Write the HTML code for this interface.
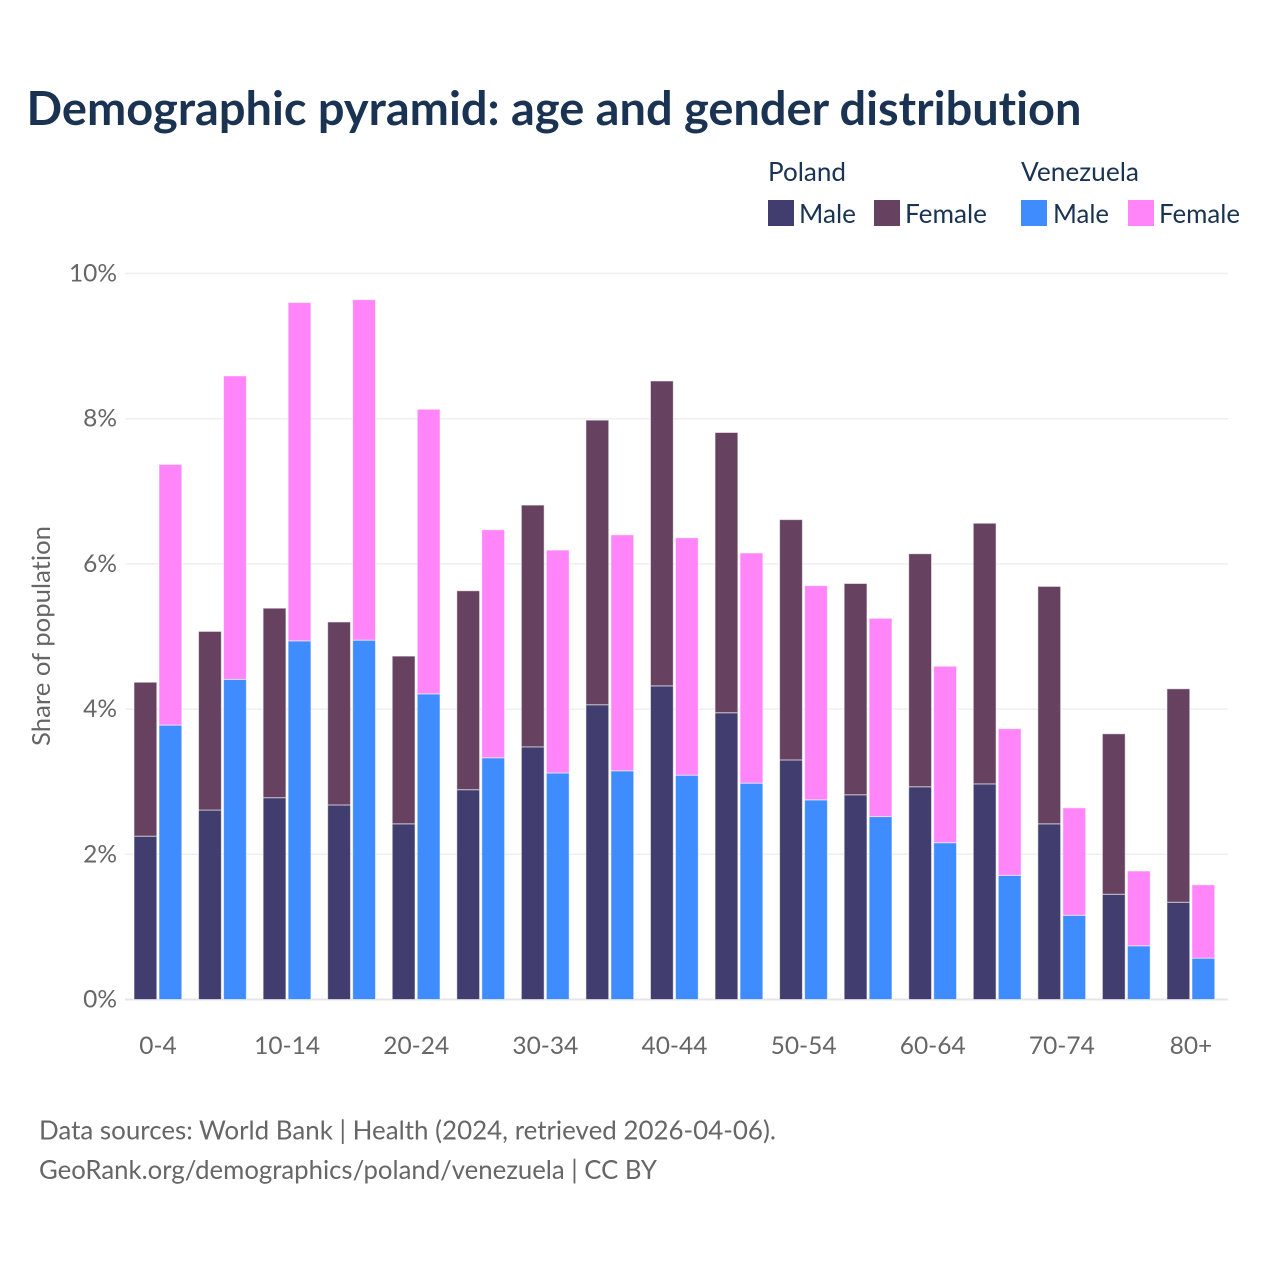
<!DOCTYPE html>
<html>
<head>
<meta charset="utf-8">
<title>Demographic pyramid</title>
<style>
html,body{margin:0;padding:0;background:#fff;}
svg{display:block;font-family:"Lato","Carlito","Liberation Sans",sans-serif;font-variant-ligatures:none;}
</style>
</head>
<body>
<svg id="chart" width="1280" height="1280" viewBox="0 0 1280 1280" xmlns="http://www.w3.org/2000/svg">
  <rect width="1280" height="1280" fill="#ffffff"/>
  <text x="26.5" y="125" font-size="46.5" font-weight="700" fill="#1a3353" textLength="1055" lengthAdjust="spacingAndGlyphs">Demographic pyramid: age and gender distribution</text>

  <g font-size="26" fill="#1a3353">
    <text x="768" y="181" textLength="78" lengthAdjust="spacingAndGlyphs">Poland</text>
    <text x="1021" y="181" textLength="118" lengthAdjust="spacingAndGlyphs">Venezuela</text>
    <rect x="768" y="200" width="26" height="26" fill="#413e6f"/>
    <text x="799" y="223" textLength="57" lengthAdjust="spacingAndGlyphs">Male</text>
    <rect x="874" y="200" width="26" height="26" fill="#664160"/>
    <text x="905" y="223" textLength="82" lengthAdjust="spacingAndGlyphs">Female</text>
    <rect x="1021" y="200" width="26" height="26" fill="#3f8cff"/>
    <text x="1053" y="223" textLength="56" lengthAdjust="spacingAndGlyphs">Male</text>
    <rect x="1128" y="200" width="26" height="26" fill="#ff85f9"/>
    <text x="1159" y="223" textLength="81" lengthAdjust="spacingAndGlyphs">Female</text>
  </g>

  <g id="grid"></g>
  <g id="bars"></g>
  <g id="yticks" font-size="24.5" fill="#666666" text-anchor="end"></g>
  <g id="xticks" font-size="24.5" fill="#666666" text-anchor="middle"></g>

  <text transform="translate(50,636) rotate(-90)" font-size="25" fill="#666666" text-anchor="middle" textLength="220" lengthAdjust="spacingAndGlyphs">Share of population</text>

  <text x="39" y="1139.5" font-size="26" fill="#666666" textLength="737" lengthAdjust="spacingAndGlyphs">Data sources: World Bank | Health (2024, retrieved 2026-04-06).</text>
  <text x="39" y="1179" font-size="26" fill="#666666" textLength="618" lengthAdjust="spacingAndGlyphs">GeoRank.org/demographics/poland/venezuela | CC BY</text>
</svg>
<script>
const categories = ["0-4","5-9","10-14","15-19","20-24","25-29","30-34","35-39","40-44","45-49","50-54","55-59","60-64","65-69","70-74","75-79","80+"];
const polandMale = [2.25,2.61,2.78,2.68,2.42,2.89,3.48,4.06,4.32,3.95,3.30,2.82,2.93,2.97,2.42,1.45,1.34];
const polandFemale = [2.12,2.46,2.61,2.52,2.31,2.74,3.33,3.92,4.20,3.86,3.31,2.91,3.21,3.59,3.27,2.21,2.94];
const venezuelaMale = [3.78,4.41,4.94,4.95,4.21,3.33,3.12,3.15,3.09,2.98,2.75,2.52,2.16,1.71,1.16,0.74,0.57];
const venezuelaFemale = [3.59,4.18,4.66,4.69,3.92,3.14,3.07,3.25,3.27,3.17,2.95,2.73,2.43,2.02,1.48,1.03,1.01];
const yTickValues = [0,2,4,6,8,10];
const yTickLabels = ["0%","2%","4%","6%","8%","10%"];
const xTickLabels = ["0-4","10-14","20-24","30-34","40-44","50-54","60-64","70-74","80+"];

const SVG_NS = "http://www.w3.org/2000/svg";
const plotLeft = 125, plotRight = 1228;
function yScale(v){ return 999.5 - v * 72.6; }
function xCenter(i){ return 158 + i * 64.56; }

const gridGroup = document.getElementById("grid");
const barGroup = document.getElementById("bars");
const yTickGroup = document.getElementById("yticks");
const xTickGroup = document.getElementById("xticks");

yTickValues.forEach(function(v, i){
  const line = document.createElementNS(SVG_NS, "line");
  
  
  line.setAttribute("x1", plotLeft);
  line.setAttribute("x2", plotRight);
  line.setAttribute("y1", yScale(v));
  line.setAttribute("y2", yScale(v));
  line.setAttribute("stroke", v === 0 ? "#e4e5e7" : "#eeeff1");
  line.setAttribute("stroke-width", v === 0 ? 2 : 1.5);
  gridGroup.appendChild(line);

  const label = document.createElementNS(SVG_NS, "text");
  
  
  label.setAttribute("x", 117);
  label.setAttribute("y", yScale(v) + 8);
  label.textContent = yTickLabels[i];
  yTickGroup.appendChild(label);
});

xTickLabels.forEach(function(text){
  const label = document.createElementNS(SVG_NS, "text");
  
  
  label.setAttribute("x", xCenter(categories.indexOf(text)));
  label.setAttribute("y", 1054);
  label.textContent = text;
  xTickGroup.appendChild(label);
});

function drawBar(x, w, from, to, color){
  const rect = document.createElementNS(SVG_NS, "rect");
  
  
  rect.setAttribute("x", x);
  rect.setAttribute("width", w);
  rect.setAttribute("y", yScale(to));
  rect.setAttribute("height", yScale(from) - yScale(to));
  rect.setAttribute("fill", color);
  rect.setAttribute("stroke", "#ffffff");
  rect.setAttribute("stroke-opacity", "0.55");
  rect.setAttribute("stroke-width", "1");
  barGroup.appendChild(rect);
}

categories.forEach(function(c, i){
  const mid = xCenter(i);
  const w = 22.8;
  const xp = mid - 24;
  const xv = mid + 1;
  drawBar(xp, w, 0, polandMale[i], "#413e6f");
  drawBar(xp, w, polandMale[i], polandMale[i] + polandFemale[i], "#664160");
  drawBar(xv, w, 0, venezuelaMale[i], "#3f8cff");
  drawBar(xv, w, venezuelaMale[i], venezuelaMale[i] + venezuelaFemale[i], "#ff85f9");
});
</script>
</body>
</html>
